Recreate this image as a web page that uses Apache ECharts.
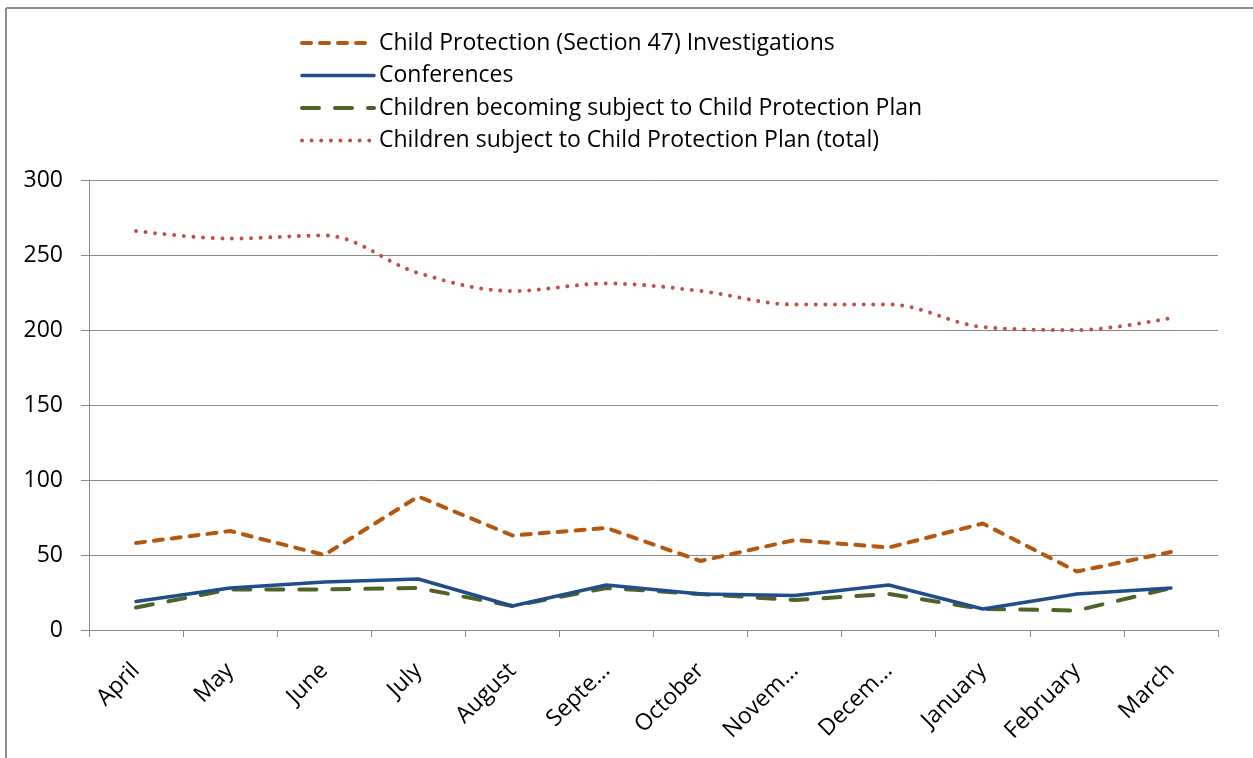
<!DOCTYPE html>
<html>
<head>
<meta charset="utf-8">
<script src="https://cdn.jsdelivr.net/npm/echarts@6/dist/echarts.min.js"></script>
<style>
  html, body { margin: 0; padding: 0; background: #fff; }
  #chart { width: 1253px; height: 758px; }
</style>
</head>
<body>
<div id="chart"></div>
<script>
// Monthly child protection activity, April to March
const months = ['April', 'May', 'June', 'July', 'August', 'Septe...', 'October', 'Novem...', 'Decem...', 'January', 'February', 'March'];

const investigations = [58, 66, 50, 89, 63, 68, 46, 60, 55, 71, 39, 52];
const conferences = [19, 28, 32, 34, 16, 30, 24, 23, 30, 14, 24, 28];
const becomingSubject = [15, 27, 27, 28, 16, 28, 24, 20, 24, 14, 13, 28];
const subjectTotal = [266, 261, 263, 238, 226, 231, 226, 217, 217, 202, 200, 208];

const yTicks = { min: 0, max: 300, interval: 50 };

const FONT = '"Open Sans", "Noto Sans", sans-serif';
const FONT_SIZE = 23;
const AXIS_GRAY = '#8a8a8a';

// line appearance shared by the plotted series and their legend keys
const styles = {
  investigations: { color: '#B4570F', width: 4, type: [9, 9], cap: 'round', join: 'round' },
  conferences: { color: '#1F4E8A', width: 3.5, type: 'solid', cap: 'round', join: 'round' },
  becoming: { color: '#4F6228', width: 4, type: [17, 16], cap: 'round', join: 'round' },
  total: { color: '#C0504D', width: 4, type: [0.01, 9.6], cap: 'round', join: 'round' }
};

const names = {
  investigations: 'Child Protection (Section 47) Investigations',
  conferences: 'Conferences',
  becoming: 'Children becoming subject to Child Protection Plan',
  total: 'Children subject to Child Protection Plan (total)'
};

const chart = echarts.init(document.getElementById('chart'), null, { renderer: 'canvas' });

chart.setOption({
  animation: false,
  backgroundColor: '#ffffff',
  textStyle: { fontFamily: FONT },
  graphic: [
    // outer chart frame (top and left edges)
    { type: 'line', shape: { x1: 6, y1: 8, x2: 1253, y2: 8 }, style: { stroke: '#8c8c8c', lineWidth: 2 } },
    { type: 'line', shape: { x1: 6, y1: 8, x2: 6, y2: 758 }, style: { stroke: '#8c8c8c', lineWidth: 2 } }
  ],
  legend: {
    orient: 'vertical',
    left: 295,
    top: 25,
    itemWidth: 72,
    itemHeight: 14,
    itemGap: 6.5,
    textStyle: { fontFamily: FONT, fontSize: FONT_SIZE, color: '#000', lineHeight: 26 },
    data: Object.keys(names).map(k => ({
      name: names[k],
      itemStyle: { opacity: 0 },
      lineStyle: Object.assign({}, styles[k])
    }))
  },
  grid: { left: 89, right: 35, top: 180, bottom: 128, containLabel: false },
  xAxis: {
    type: 'category',
    data: months,
    boundaryGap: true,
    axisLine: { lineStyle: { color: AXIS_GRAY, width: 1 } },
    axisTick: { show: true, length: 7, alignWithLabel: false, lineStyle: { color: AXIS_GRAY } },
    axisLabel: {
      interval: 0,
      rotate: 45,
      margin: 37,
      fontFamily: FONT,
      fontSize: FONT_SIZE,
      color: '#000'
    },
    splitLine: { show: false }
  },
  yAxis: {
    type: 'value',
    min: yTicks.min,
    max: yTicks.max,
    interval: yTicks.interval,
    axisLine: { show: true, lineStyle: { color: AXIS_GRAY, width: 1 } },
    axisTick: { show: true, length: 8, lineStyle: { color: AXIS_GRAY } },
    axisLabel: { fontFamily: FONT, fontSize: FONT_SIZE, color: '#000', margin: 26 },
    splitLine: { show: true, lineStyle: { color: AXIS_GRAY, width: 1 } }
  },
  series: [
    {
      name: names.investigations,
      type: 'line',
      data: investigations,
      symbol: 'none',
      color: styles.investigations.color,
      lineStyle: styles.investigations,
      z: 3
    },
    {
      name: names.conferences,
      type: 'line',
      data: conferences,
      symbol: 'none',
      color: styles.conferences.color,
      lineStyle: styles.conferences,
      z: 3
    },
    {
      name: names.becoming,
      type: 'line',
      data: becomingSubject,
      symbol: 'none',
      color: styles.becoming.color,
      lineStyle: styles.becoming,
      z: 2
    },
    {
      name: names.total,
      type: 'line',
      data: subjectTotal,
      symbol: 'none',
      smooth: 0.35,
      color: styles.total.color,
      lineStyle: styles.total,
      z: 3
    }
  ]
});
</script>
</body>
</html>
